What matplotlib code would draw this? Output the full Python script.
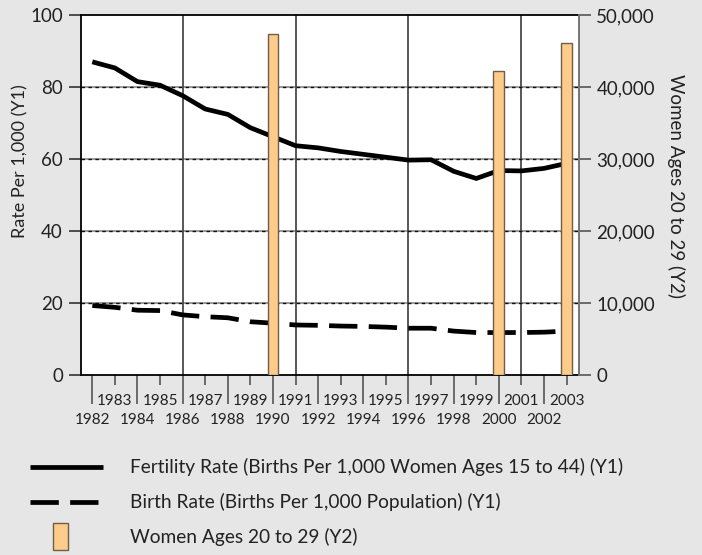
import matplotlib
matplotlib.use("Agg")
import matplotlib.pyplot as plt
from matplotlib.lines import Line2D
from matplotlib.patches import Rectangle

# --- Data ---
years = list(range(1982, 2004))
fertility = [87.0, 85.3, 81.5, 80.5, 77.6, 73.9, 72.4, 68.7, 66.2, 63.7, 63.1,
             62.1, 61.3, 60.5, 59.7, 59.8, 56.6, 54.6, 56.8, 56.7, 57.4, 58.8]
birth_rate = [19.3, 18.8, 18.0, 17.9, 16.7, 16.2, 15.9, 14.8, 14.4, 13.9, 13.8,
              13.6, 13.5, 13.3, 13.0, 13.0, 12.2, 11.8, 11.8, 11.8, 11.9, 12.2]
bar_years = [1990, 2000, 2003]
women_20_29 = [47300, 42200, 46100]

labels = ["Fertility Rate (Births Per 1,000 Women Ages 15 to 44) (Y1)",
          "Birth Rate (Births Per 1,000 Population) (Y1)",
          "Women Ages 20 to 29 (Y2)"]

FONT = ["Lato", "DejaVu Sans"]
plt.rcParams["font.family"] = FONT
TXT = "#222222"
BG = "#E6E6E6"
BAR = "#FDCB8A"

fig = plt.figure(figsize=(7.02, 5.55), dpi=100, facecolor=BG)
ax = fig.add_axes([0.1154, 0.3243, 0.7094, 0.6486])
ax.set_facecolor("white")

# --- Grid ---
for v in [20, 40, 60, 80]:
    ax.axhline(v, color="#8a8a8a", lw=1.2, zorder=1)
    ax.axhline(v, color="#111111", lw=1.0, ls=(0, (2.5, 2.5)), zorder=1.1)
for yr in [1986, 1991, 1996, 2001]:
    ax.axvline(yr, color="#4a4a4a", lw=1.3, zorder=1)

# --- Lines ---
ax.plot(years, fertility, color="black", lw=3.4, solid_capstyle="butt", zorder=3)
ax.plot(years, birth_rate, color="black", lw=3.4, ls=(0, (6, 2.4)), zorder=3)

ax.set_xlim(1981.5, 2003.55)
ax.set_ylim(0, 100)
ax.set_yticks([0, 20, 40, 60, 80, 100])
ax.tick_params(axis="y", length=9, width=1.2, color="#333333", labelsize=13.5,
               labelcolor=TXT, pad=4)

# x ticks: even years long (lower row), odd years short (upper row)
ax.set_xticks([y for y in years if y % 2 == 0])
ax.set_xticklabels([str(y) for y in years if y % 2 == 0])
ax.set_xticks([y for y in years if y % 2 == 1], minor=True)
ax.set_xticklabels([str(y) for y in years if y % 2 == 1], minor=True)
ax.tick_params(axis="x", which="major", length=21, width=1.2, color="#555555",
               labelsize=11, labelcolor=TXT, pad=6.5)
ax.tick_params(axis="x", which="minor", length=7.5, width=1.2, color="#555555",
               labelsize=11, labelcolor=TXT, pad=6)

for s in ["left", "bottom", "top"]:
    ax.spines[s].set_color("black")
    ax.spines[s].set_linewidth(1.3)
ax.spines["right"].set_color("#777777")
ax.spines["right"].set_linewidth(1.3)

ax.set_ylabel("Rate Per 1,000 (Y1)", fontsize=13, color=TXT)
ax.yaxis.set_label_coords(-0.106, 0.594)

# --- Bars on secondary axis ---
ax2 = ax.twinx()
ax2.bar(bar_years, women_20_29, width=0.48, color=BAR, edgecolor="#6e5e4a",
        linewidth=1.0, zorder=4)
ax2.set_ylim(0, 50000)
ax2.set_yticks([0, 10000, 20000, 30000, 40000, 50000])
ax2.set_yticklabels(["0", "10,000", "20,000", "30,000", "40,000", "50,000"])
ax2.tick_params(axis="y", length=8.5, width=1.2, color="#555555", labelsize=13.5,
                labelcolor=TXT, pad=4)
for s in ["left", "bottom", "top"]:
    ax2.spines[s].set_visible(False)
ax2.spines["right"].set_color("#777777")
ax2.spines["right"].set_linewidth(1.3)
ax2.set_ylabel("Women Ages 20 to 29 (Y2)", fontsize=13.5, color=TXT, rotation=270)
ax2.yaxis.set_label_coords(1.212, 0.525)

# --- Legend (drawn manually below the chart) ---
W, H = 702.0, 555.0
def fx(px):
    return px / W
def fy(py):
    return 1 - py / H

fig.add_artist(Line2D([fx(30), fx(103)], [fy(467), fy(467)], color="black",
                      lw=3.4, solid_capstyle="butt"))
fig.add_artist(Line2D([fx(30), fx(103)], [fy(502), fy(502)], color="black",
                      lw=3.4, ls=(0, (6, 2.4))))
fig.add_artist(Rectangle((fx(53), fy(550)), fx(15) - fx(0), fy(523) - fy(550),
                         facecolor=BAR, edgecolor="#6e5e4a", lw=1.0))
for lab, py in zip(labels, [467, 502, 537]):
    fig.text(fx(130), fy(py), lab, fontsize=13.8, color=TXT, va="center", ha="left")

fig.savefig("out.png", dpi=100, facecolor=BG)
